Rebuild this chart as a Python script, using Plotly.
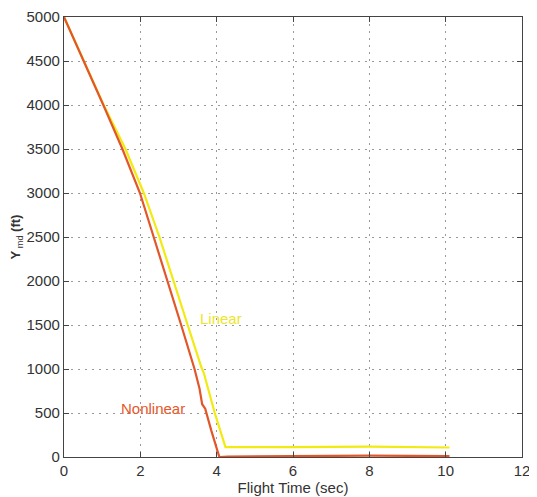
import plotly.graph_objects as go

# Nonlinear trajectory (time in sec, Y_md in ft)
t_nonlinear = [0, 0.52, 1.03, 1.53, 1.99, 2.35, 2.72, 3.07, 3.42, 3.55, 3.62, 3.70, 3.86, 4.07, 4.30, 6.0, 8.0, 10.1]
y_nonlinear = [5000, 4500, 4000, 3500, 3000, 2500, 2000, 1500, 1000, 780, 600, 550, 300, 0, 5, 10, 15, 10]

# Linear trajectory
t_linear = [0, 0.53, 1.04, 1.61, 2.09, 2.50, 2.88, 3.24, 3.60, 3.66, 3.95, 4.23, 6.0, 8.0, 10.1]
y_linear = [5000, 4500, 4000, 3500, 3000, 2500, 2000, 1500, 1020, 960, 500, 113, 112, 118, 108]

x_ticks = [0, 2, 4, 6, 8, 10, 12]
y_ticks = [0, 500, 1000, 1500, 2000, 2500, 3000, 3500, 4000, 4500, 5000]

FONT = "Liberation Sans"

fig = go.Figure()
fig.add_trace(go.Scatter(x=t_linear, y=y_linear, mode="lines",
                         line=dict(color="#f2ea10", width=2.2), name="Linear"))
fig.add_trace(go.Scatter(x=t_nonlinear, y=y_nonlinear, mode="lines",
                         line=dict(color="#e2562a", width=2.2), name="Nonlinear"))

fig.add_annotation(x=4.12, y=1570, text="Linear", showarrow=False,
                   font=dict(color="#eee52a", size=15, family=FONT))
fig.add_annotation(x=2.32, y=553, text="Nonlinear", showarrow=False,
                   font=dict(color="#e5582a", size=15, family=FONT))

axis_common = dict(showline=True, linecolor="#444", linewidth=1.3, mirror="ticks",
                   ticks="inside", ticklen=5, tickcolor="#444",
                   showgrid=True, gridcolor="#999999", griddash="2px,5px", gridwidth=1,
                   zeroline=False, automargin=False, ticklabeloverflow="allow",
                   tickfont=dict(size=15, color="#333", family=FONT))

fig.update_xaxes(range=[0, 12], tickvals=x_ticks,
                 title=dict(text="Flight Time (sec)", font=dict(size=15, color="#333", family=FONT), standoff=4),
                 **axis_common)
fig.update_yaxes(range=[0, 5000], tickvals=y_ticks,
                 title=dict(text="<b>Y</b><sub> md</sub><b> (ft)</b>", font=dict(size=13, color="#333", family=FONT), standoff=8),
                 **axis_common)

# page body has a default 8px margin, so the figure is sized to fit inside the window
fig.update_layout(width=529, height=489, showlegend=False,
                  plot_bgcolor="white", paper_bgcolor="white",
                  margin=dict(l=56, r=15, t=9, b=40))

fig.write_html("out.html")
